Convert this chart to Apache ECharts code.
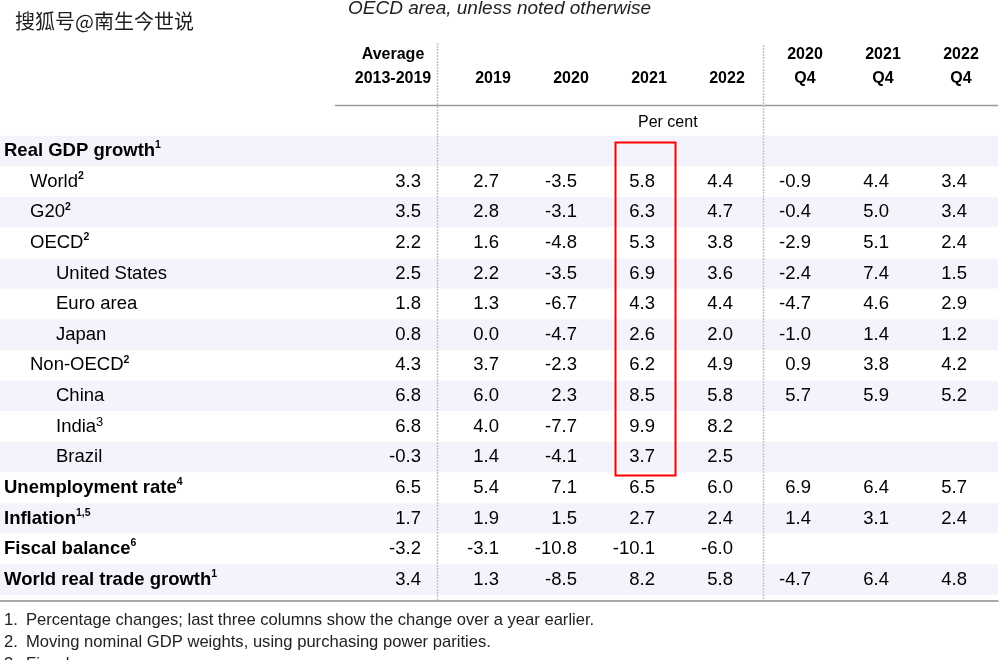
<!DOCTYPE html>
<html><head><meta charset="utf-8">
<script src="https://cdn.jsdelivr.net/npm/echarts@6/dist/echarts.min.js"></script>
<style>html,body{margin:0;padding:0;background:#fff}#c{width:1000px;height:660px}</style>
</head><body><div id="c"></div>
<script>
// ---- data ----
const columns = ['Average\n2013-2019', '2019', '2020', '2021', '2022', '2020\nQ4', '2021\nQ4', '2022\nQ4'];
const rowNames = ['', 'Real GDP growth', 'World', 'G20', 'OECD', 'United States', 'Euro area', 'Japan',
  'Non-OECD', 'China', 'India', 'Brazil', 'Unemployment rate', 'Inflation', 'Fiscal balance', 'World real trade growth'];
const rowNotes = ['', '1', '2', '2', '2', '', '', '', '2', '', '3', '', '4', '1,5', '6', '1'];
const rowLevels = [0, 0, 1, 1, 1, 2, 2, 2, 1, 2, 2, 2, 0, 0, 0, 0];
const unitLabel = 'Per cent';
const subtitle = 'OECD area, unless noted otherwise';
const watermark = '搜狐号@南生今世说';
const footnotes = [
  'Percentage changes; last three columns show the change over a year earlier.',
  'Moving nominal GDP weights, using purchasing power parities.',
  'Fiscal year.'
];

const world        = [3.3, 2.7, -3.5, 5.8, 4.4, -0.9, 4.4, 3.4];
const g20          = [3.5, 2.8, -3.1, 6.3, 4.7, -0.4, 5.0, 3.4];
const oecd         = [2.2, 1.6, -4.8, 5.3, 3.8, -2.9, 5.1, 2.4];
const unitedStates = [2.5, 2.2, -3.5, 6.9, 3.6, -2.4, 7.4, 1.5];
const euroArea     = [1.8, 1.3, -6.7, 4.3, 4.4, -4.7, 4.6, 2.9];
const japan        = [0.8, 0.0, -4.7, 2.6, 2.0, -1.0, 1.4, 1.2];
const nonOecd      = [4.3, 3.7, -2.3, 6.2, 4.9, 0.9, 3.8, 4.2];
const china        = [6.8, 6.0, 2.3, 8.5, 5.8, 5.7, 5.9, 5.2];
const india        = [6.8, 4.0, -7.7, 9.9, 8.2, null, null, null];
const brazil       = [-0.3, 1.4, -4.1, 3.7, 2.5, null, null, null];
const unemployment = [6.5, 5.4, 7.1, 6.5, 6.0, 6.9, 6.4, 5.7];
const inflation    = [1.7, 1.9, 1.5, 2.7, 2.4, 1.4, 3.1, 2.4];
const fiscal       = [-3.2, -3.1, -10.8, -10.1, -6.0, null, null, null];
const worldTrade   = [3.4, 1.3, -8.5, 8.2, 5.8, -4.7, 6.4, 4.8];

const rowValues = [null, null, world, g20, oecd, unitedStates, euroArea, japan, nonOecd,
  china, india, brazil, unemployment, inflation, fiscal, worldTrade];

// ---- build ----
const cells = [];
rowValues.forEach((vals, r) => {
  if (!vals) return;
  vals.forEach((v, c) => { if (v !== null) cells.push([c, r, v]); });
});

const FONT = '"Liberation Sans", Arial, sans-serif';
const TOP = 105, BOTTOM = 65;
const INK = '#000';

const chart = echarts.init(document.getElementById('c'), null, { renderer: 'canvas' });
chart.setOption({
  animation: false,
  backgroundColor: '#ffffff',
  textStyle: { fontFamily: FONT },
  grid: [
    { left: 0, right: 2, top: TOP, bottom: BOTTOM },
    { left: 376, right: -2, top: TOP, bottom: BOTTOM }
  ],
  xAxis: [
    {
      type: 'value', gridIndex: 0, min: 0, max: 1, position: 'bottom', offset: 6,
      axisLine: { show: true, onZero: false, lineStyle: { color: '#8c8c8c', width: 1.5 } },
      axisTick: { show: false }, axisLabel: { show: false }, splitLine: { show: false }
    },
    {
      type: 'category', gridIndex: 1, data: columns, position: 'top',
      axisLine: { show: false }, axisTick: { show: false }, splitLine: { show: false },
      axisLabel: {
        interval: 0, margin: 14, color: INK, fontSize: 16, fontWeight: 'bold',
        lineHeight: 24, fontFamily: FONT,
        formatter: (v, i) => i === 0 ? v.split('\n').map(s => '{avg|' + s + '}').join('\n') : v,
        rich: { avg: { fontSize: 16, fontWeight: 'bold', lineHeight: 24, color: INK, fontFamily: FONT, padding: [0, 44, 0, 0] } }
      }
    }
  ],
  yAxis: [
    {
      type: 'category', gridIndex: 0, data: rowNames, inverse: true,
      axisLine: { show: false }, axisTick: { show: false },
      splitLine: { show: false },
      splitArea: { show: true, interval: 0, areaStyle: { color: ['#ffffff', '#f3f4fb'] } },
      axisLabel: {
        inside: true, margin: 4, align: 'left', interval: 0,
        formatter: (v, i) => {
          if (!v) return '';
          const lvl = rowLevels[i];
          const note = rowNotes[i];
          const base = lvl === 0 ? 'b' : ('n' + lvl);
          let supStyle = lvl === 0 ? 'bs' : 'ns';
          if (note === '3') supStyle = 'big';
          return '{' + base + '|' + v + '}' + (note ? '{' + supStyle + '|' + note + '}' : '');
        },
        rich: {
          b: { fontSize: 18.5, fontWeight: 'bold', color: INK, fontFamily: FONT, lineHeight: 22 },
          n1: { fontSize: 18.5, color: INK, fontFamily: FONT, lineHeight: 22, padding: [0, 0, 0, 26] },
          n2: { fontSize: 18.5, color: INK, fontFamily: FONT, lineHeight: 22, padding: [0, 0, 0, 52] },
          bs: { fontSize: 10.5, fontWeight: 'bold', color: INK, fontFamily: FONT, lineHeight: 15, verticalAlign: 'top' },
          ns: { fontSize: 10.5, fontWeight: 'bold', color: INK, fontFamily: FONT, lineHeight: 15, verticalAlign: 'top' },
          big: { fontSize: 13, color: INK, fontFamily: FONT, lineHeight: 12, verticalAlign: 'top' }
        }
      }
    },
    {
      type: 'category', gridIndex: 1, data: rowNames, inverse: true, show: false
    }
  ],
  series: [{
    type: 'scatter', xAxisIndex: 1, yAxisIndex: 1, data: cells,
    symbolSize: 0, itemStyle: { color: '#000', opacity: 1 }, silent: true,
    label: {
      show: true, position: 'inside', align: 'right', verticalAlign: 'middle', offset: [6, 0],
      fontSize: 18.5, color: INK, fontFamily: FONT, textBorderWidth: 0, opacity: 1,
      formatter: p => p.value[2].toFixed(1)
    }
  }],
  graphic: [
    { type: 'text', z: 100, style: { text: watermark, x: 15, y: 21, font: '20px "Noto Sans CJK SC"', fill: '#1e1e1e', verticalAlign: 'middle' } },
    { type: 'text', z: 100, style: { text: subtitle, x: 348, y: 9, font: 'italic 19px ' + FONT, fill: '#222', verticalAlign: 'middle' } },
    { type: 'text', z: 100, style: { text: unitLabel, x: 638, y: 123, font: '16px ' + FONT, fill: INK, verticalAlign: 'middle' } },
    { type: 'line', z: 100, shape: { x1: 335, y1: 105.5, x2: 998, y2: 105.5 }, style: { stroke: '#9a9a9a', lineWidth: 1.5 } },
    { type: 'line', z: 100, shape: { x1: 437.5, y1: 43, x2: 437.5, y2: 600 }, style: { stroke: '#c4c4c4', lineWidth: 1.5, lineDash: [2, 1] } },
    { type: 'line', z: 100, shape: { x1: 763.5, y1: 45, x2: 763.5, y2: 600 }, style: { stroke: '#c4c4c4', lineWidth: 1.5, lineDash: [2, 1] } },
    { type: 'rect', z: 100, shape: { x: 615.5, y: 142.5, width: 60, height: 333 }, style: { stroke: '#ff0000', lineWidth: 2, fill: 'none' } },
    ...footnotes.map((t, i) => ({
      type: 'text', z: 100,
      style: {
        text: '{n|' + (i + 1) + '.}{t|' + t + '}', x: 4, y: 620.5 + i * 22, verticalAlign: 'middle',
        font: '16.6px ' + FONT, fill: '#222',
        rich: { n: { width: 22, fontSize: 16.6, fontFamily: FONT, fill: '#222' }, t: { fontSize: 16.6, fontFamily: FONT, fill: '#222' } }
      }
    }))
  ]
});
</script>
</body></html>
